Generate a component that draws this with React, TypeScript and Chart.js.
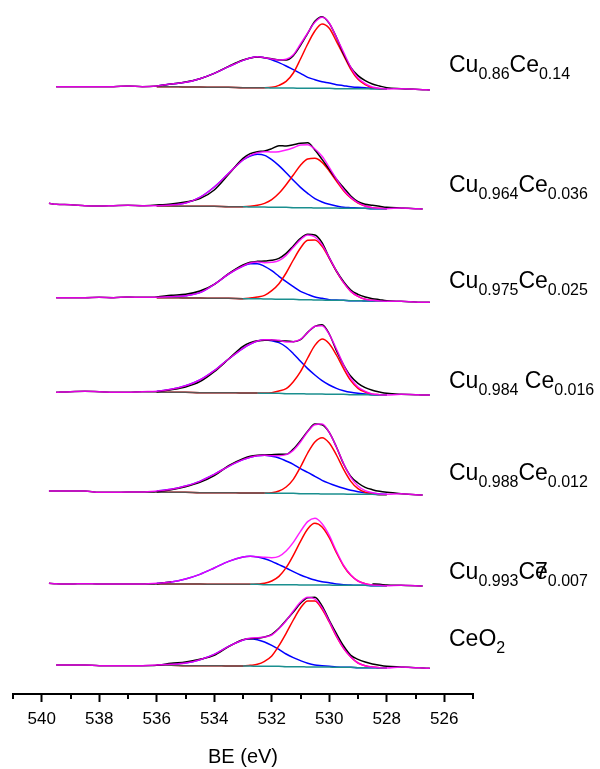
import React, { useEffect, useRef } from "react";
import { Chart, registerables } from "chart.js";

Chart.register(...registerables);

// Binding energy grid (eV)
const BE = [539.75, 539.5, 539, 538.5, 538, 537.5, 537, 536.5, 536, 535.5, 535, 534.5, 534, 533.5, 533, 532.75, 532.5, 532.25, 532, 531.75, 531.5, 531.25, 531, 530.75, 530.5, 530.25, 530, 529.75, 529.5, 529.25, 529, 528.75, 528.5, 528.25, 528, 527.5, 527, 526.75, 526.5];
const FIT_FROM = 8;
const FIT_TO = 34;
const BE_FIT = BE.slice(FIT_FROM, FIT_TO + 1);

const X_TICKS = [540, 538, 536, 534, 532, 530, 528, 526];
const X_MINOR_TICKS = [541, 539, 537, 535, 533, 531, 529, 527, 525];
const X_TITLE = "BE (eV)";

// intensity (arbitrary units), stack offsets top -> bottom
const OFFSETS = [1822, 1464, 1189, 905, 605, 330, 86];

// ---- Cu0.86Ce0.14
const RAW1 = [null, 0, 0, 0, 0, 0, 2, 0, 2, 8, 14, 24, 40, 61, 80, 86, 89, 87, 84, 80, 80, 93, 124, 160, 196, 210, 190, 148, 98, 58, 33, 18, 8, 2, -3, -6, -8, -9, -10];
const RED1 = [0, 0, 0, 0, 0, 0, 0, 0, 0, 0, 2, 8, 20, 45, 88, 133, 172, 193, 180, 142, 100, 58, 28, 12, 4, 1, 0];
const BLUE1 = [2, 8, 14, 25, 42, 62, 82, 89, 93, 90, 85, 76, 66, 55, 45, 33, 26, 20, 16, 12, 9, 6, 4, 3, 2, 1, 0];
const BASE1 = [0, 0, -1, -1, -2, -2, -3, -3, -3, -3, -4, -4, -4, -4, -5, -5, -5, -5, -5, -6, -6, -6, -6, -6, -7, -7, -7];

// ---- Cu0.964Ce0.036
const RAW2 = [8, 5, 4, 1, 0, 1, 2, 1, 3, 6, 12, 22, 48, 95, 143, 157, 163, 165, 172, 181, 180, 184, 188, 190, 168, 140, 110, 80, 55, 30, 13, 5, 2, -1, -4, -6, -8, -9, null];
const RED2 = [0, 0, 0, 0, 0, 0, 0, 2, 5, 11, 23, 42, 68, 98, 127, 146, 149, 137, 111, 81, 53, 31, 16, 7, 3, 1, 0];
const BLUE2 = [1, 3, 10, 27, 58, 100, 140, 153, 158, 155, 143, 125, 104, 82, 61, 43, 28, 18, 11, 6, 3, 2, 1, 0, 0, 0, 0];
const BASE2 = [0, 0, -1, -1, -1, -2, -2, -3, -3, -3, -4, -4, -4, -5, -5, -5, -6, -6, -6, -6, -7, -7, -7, -7, -8, -8, -8];

// ---- Cu0.975Ce0.025
const RAW3 = [null, 0, 0, 0, 1, 0, 2, 1, 2, 7, 10, 20, 40, 72, 98, 106, 109, 110, 112, 118, 133, 155, 178, 190, 188, 165, 120, 80, 48, 23, 10, 2, -3, -6, -9, -11, -13, -14, -14];
const RED3 = [0, 0, 0, 0, 0, 0, 0, 2, 5, 11, 25, 47, 79, 118, 155, 178, 180, 161, 126, 87, 53, 28, 13, 5, 2, 1, 0];
const BLUE3 = [1, 3, 7, 16, 42, 73, 98, 105, 105, 98, 85, 69, 53, 38, 25, 16, 9, 5, 2, 1, 0, 0, 0, 0, 0, 0, 0];
const BASE3 = [0, 0, -1, -1, -2, -2, -3, -3, -3, -4, -4, -5, -5, -5, -6, -6, -7, -7, -8, -8, -8, -9, -9, -10, -10, -11, -11];

// ---- Cu0.984Ce0.016
const RAW4 = [null, 0, 2, 3, 2, 0, 0, 2, 2, 8, 16, 32, 62, 100, 138, 149, 155, 156, 157, 154, 154, 152, 158, 180, 198, 203, 175, 125, 82, 48, 27, 14, 6, 1, -3, -6, -7, -8, -8];
const RED4 = [0, 0, 0, 0, 0, 0, 0, 0, 0, 1, 2, 7, 15, 36, 66, 108, 146, 165, 152, 118, 77, 42, 19, 8, 2, 1, 0];
const BLUE4 = [3, 9, 20, 38, 66, 101, 134, 147, 156, 160, 158, 152, 140, 120, 97, 76, 57, 40, 28, 18, 11, 7, 4, 2, 1, 0, 0];
const BASE4 = [0, 0, 0, -1, -1, -1, -2, -2, -2, -3, -3, -3, -4, -4, -4, -5, -5, -5, -6, -6, -6, -7, -7, -7, -8, -8, -8];

// ---- Cu0.988Ce0.012
const RAW5 = [4, 4, 4, 4, 0, 0, 1, 1, 2, 8, 17, 30, 50, 80, 101, 108, 111, 112, 113, 114, 114, 130, 155, 183, 205, 203, 180, 136, 85, 48, 28, 15, 8, 3, 0, -4, -7, -8, null];
const RED5 = [0, 0, 0, 0, 0, 0, 0, 0, 0, 0, 2, 7, 19, 42, 80, 122, 155, 169, 153, 117, 74, 39, 17, 6, 2, 0, 0];
const BLUE5 = [4, 9, 19, 34, 55, 79, 100, 107, 112, 113, 111, 106, 97, 87, 75, 64, 52, 41, 32, 24, 17, 12, 8, 5, 3, 2, 1];
const BASE5 = [0, 0, 0, -1, -1, -1, -2, -2, -2, -2, -3, -3, -3, -3, -4, -4, -4, -5, -5, -5, -5, -6, -6, -6, -6, -7, -7];

// ---- Cu0.993Ce0.007
const RAW6 = [2, 1, 0, 1, 0, 0, 0, 0, 1, 6, null, null, null, null, null, null, null, null, null, null, null, null, null, null, null, null, null, null, null, null, null, null, 0, -1, -3, -4, -5, -6, null];
const RED6 = [0, 0, 0, 0, 0, 0, 0, 0, 1, 4, 11, 25, 51, 88, 131, 168, 185, 174, 142, 98, 58, 30, 13, 5, 2, 1, 0];
const BLUE6 = [2, 6, 15, 29, 49, 69, 82, 84, 82, 78, 70, 60, 50, 39, 30, 22, 15, 10, 7, 4, 2, 1, 0, 0, 0, 0, 0];
const BASE6 = [0, 0, 0, 0, -1, -1, -1, -1, -1, -2, -2, -2, -2, -2, -3, -3, -3, -3, -3, -4, -4, -4, -4, -4, -5, -5, -5];

// ---- CeO2
const RAW7 = [null, 1, 1, 1, -1, -1, -1, -1, 0, 6, 10, 18, 30, 56, 77, 80, 81, 85, 93, 111, 135, 160, 186, 203, 204, 178, 135, 95, 58, 30, 18, 10, 4, 0, -3, -5, -7, -8, -9];
const RED7 = [0, 0, 0, 0, 0, 0, 0, 2, 6, 15, 31, 62, 100, 140, 176, 198, 198, 174, 135, 93, 57, 31, 14, 6, 2, 1, 0];
const BLUE7 = [1, 3, 8, 18, 34, 59, 78, 82, 80, 73, 63, 51, 38, 27, 18, 11, 6, 4, 2, 1, 0, 0, 0, 0, 0, 0, 0];
const BASE7 = [0, 0, -1, -1, -1, -2, -2, -2, -3, -3, -3, -3, -4, -4, -4, -5, -5, -5, -5, -6, -6, -6, -7, -7, -7, -8, -8];

const RAWS = [RAW1, RAW2, RAW3, RAW4, RAW5, RAW6, RAW7];
const REDS = [RED1, RED2, RED3, RED4, RED5, RED6, RED7];
const BLUES = [BLUE1, BLUE2, BLUE3, BLUE4, BLUE5, BLUE6, BLUE7];
const BASES = [BASE1, BASE2, BASE3, BASE4, BASE5, BASE6, BASE7];

// sample labels: [text, kind] kind 0 = normal, 1 = subscript, 2 = overprinted glyph
const LABEL_PARTS: [string, number][][] = [
  [["Cu", 0], ["0.86", 1], ["Ce", 0], ["0.14", 1]],
  [["Cu", 0], ["0.964", 1], ["Ce", 0], ["0.036", 1]],
  [["Cu", 0], ["0.975", 1], ["Ce", 0], ["0.025", 1]],
  [["Cu", 0], ["0.984", 1], [" ", 0], ["Ce", 0], ["0.016", 1]],
  [["Cu", 0], ["0.988", 1], ["Ce", 0], ["0.012", 1]],
  [["Cu", 0], ["0.993", 1], ["C", 0], ["7", 2], ["e", 0], ["0.007", 1]],
  [["CeO", 0], ["2", 1]],
];
const LABEL_BASELINES = [72, 192, 288, 388, 480, 579, 646];
const LABEL_X = 449;
const FONT = '"Liberation Sans", Arial, sans-serif';
const MAIN_SIZE = 23;
const SUB_SIZE = 16;
const SUB_SHIFT = 6.5;

const Y_MAX = 2082;

const overlayPlugin = {
  id: "overlay",
  afterDraw(chart: any) {
    const ctx = chart.ctx as CanvasRenderingContext2D;
    const xs = chart.scales.x;
    const area = chart.chartArea;
    ctx.save();
    ctx.strokeStyle = "#000";
    ctx.lineWidth = 2;
    X_MINOR_TICKS.forEach((v) => {
      const px = Math.round(xs.getPixelForValue(v));
      ctx.beginPath();
      ctx.moveTo(px, xs.top);
      ctx.lineTo(px, xs.top + 5);
      ctx.stroke();
    });
    ctx.fillStyle = "#000";
    ctx.textAlign = "center";
    ctx.textBaseline = "middle";
    ctx.font = `20px ${FONT}`;
    ctx.fillText(X_TITLE, (area.left + area.right) / 2, xs.top + 63);
    ctx.textBaseline = "alphabetic";
    ctx.textAlign = "left";
    LABEL_PARTS.forEach((parts, k) => {
      let x = LABEL_X;
      const yb = LABEL_BASELINES[k];
      parts.forEach(([t, kind]) => {
        const sub = kind === 1;
        ctx.font = `${sub ? SUB_SIZE : MAIN_SIZE}px ${FONT}`;
        ctx.fillText(t, x, sub ? yb + SUB_SHIFT : yb);
        if (kind !== 2) x += ctx.measureText(t).width;
      });
    });
    ctx.restore();
  },
};

function buildDatasets() {
  const sets: any[] = [];
  const common = {
    pointRadius: 0,
    borderWidth: 1.5,
    fill: false,
    cubicInterpolationMode: "monotone" as const,
    spanGaps: false,
  };
  OFFSETS.forEach((off, s) => {
    const raw = RAWS[s];
    const red = REDS[s];
    const blue = BLUES[s];
    const base = BASES[s];
    const firstRise = red.findIndex((v) => v > 0);
    const env = BE.map((x, i) => {
      if (i >= FIT_FROM && i <= FIT_TO) {
        const j = i - FIT_FROM;
        return { x, y: off + base[j] + red[j] + blue[j] };
      }
      const r = raw[i];
      return { x, y: r == null ? null : off + r };
    });
    sets.push({ ...common, label: `env${s}`, data: env, borderColor: "rgba(255,0,255,0.88)", order: 0 });
    sets.push({ ...common, label: `raw${s}`, data: BE.map((x, i) => ({ x, y: raw[i] == null ? null : off + (raw[i] as number) })), borderColor: "#000000", order: 1 });
    sets.push({
      ...common,
      label: `bg${s}`,
      data: BE_FIT.map((x, j) => ({ x, y: off + base[j] })),
      borderColor: "#008b8b",
      segment: { borderColor: (c: any) => (c.p0DataIndex < firstRise - 1 ? "#5b5555" : "#1b8f8f") },
      order: 2,
    });
    sets.push({ ...common, label: `red${s}`, data: BE_FIT.map((x, j) => ({ x, y: off + base[j] + red[j] })), borderColor: "#ff0000", order: 3 });
    sets.push({ ...common, label: `blue${s}`, data: BE_FIT.map((x, j) => ({ x, y: off + base[j] + blue[j] })), borderColor: "#0000ff", order: 4 });
  });
  return sets;
}

export default function App() {
  const ref = useRef<HTMLCanvasElement | null>(null);
  useEffect(() => {
    if (!ref.current) return;
    const chart = new Chart(ref.current, {
      type: "line",
      data: { datasets: buildDatasets() },
      options: {
        animation: false,
        responsive: false,
        maintainAspectRatio: false,
        layout: { padding: { left: 13, right: 127, top: 0, bottom: 0 } },
        plugins: { legend: { display: false }, tooltip: { enabled: false } },
        scales: {
          x: {
            type: "linear",
            min: 525,
            max: 541,
            reverse: true,
            afterBuildTicks: (scale: any) => {
              scale.ticks = X_TICKS.map((v) => ({ value: v }));
            },
            afterFit: (scale: any) => {
              scale.height = 75;
            },
            grid: {
              display: true,
              drawOnChartArea: false,
              drawTicks: true,
              tickLength: 8,
              tickWidth: 2,
              tickColor: "#000",
              color: "#000",
            },
            border: { display: true, color: "#000", width: 2 },
            ticks: {
              autoSkip: false,
              maxRotation: 0,
              color: "#000",
              padding: 7,
              font: { family: FONT, size: 17 },
            },
            title: { display: false },
          },
          y: { type: "linear", display: false, min: 0, max: Y_MAX },
        },
      },
      plugins: [overlayPlugin],
    });
    return () => chart.destroy();
  }, []);
  return (
    <div style={{ position: "fixed", left: 0, top: 0, width: 600, height: 769, background: "#fff" }}>
      <canvas ref={ref} width={600} height={769} style={{ width: 600, height: 769, display: "block" }} />
    </div>
  );
}
